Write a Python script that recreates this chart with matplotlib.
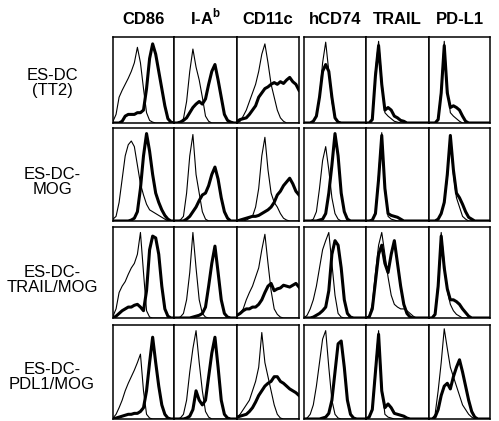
import numpy as np
import matplotlib.pyplot as plt

plt.rcParams['font.family'] = ['Liberation Sans', 'DejaVu Sans']

size = 499, 421
figsize = (size[0]/100.0, size[1]/100.0)

markers = ['CD86', 'I-A$^{\\mathregular{b}}$', 'CD11c', 'hCD74', 'TRAIL', 'PD-L1']
cell_lines = ['ES-DC\n(TT2)', 'ES-DC-\nMOG', 'ES-DC-\nTRAIL/MOG', 'ES-DC-\nPDL1/MOG']

# fluorescence bins (fraction of the log axis), 21 per histogram
bins = np.linspace(0.0, 1.0, 21)

# ES-DC (TT2): control (thin) and stained (thick) histograms
tt2_cd86_ctrl   = [0.02,0.10,0.30,0.38,0.45,0.52,0.60,0.70,0.88,0.70,0.40,0.12,0.03,0.01,0,0,0,0,0,0,0]
tt2_cd86_stain  = [0,0,0,0.02,0.08,0.10,0.10,0.10,0.12,0.12,0.15,0.40,0.75,0.92,0.80,0.60,0.40,0.20,0.05,0.01,0]
tt2_iab_ctrl    = [0,0,0.01,0.05,0.25,0.60,0.86,0.65,0.50,0.30,0.08,0.02,0,0,0,0,0,0,0,0,0]
tt2_iab_stain   = [0,0,0.01,0.03,0.06,0.12,0.18,0.22,0.25,0.22,0.28,0.45,0.60,0.68,0.50,0.30,0.10,0.03,0.01,0,0]
tt2_cd11c_ctrl  = [0,0.02,0.08,0.15,0.25,0.35,0.45,0.60,0.80,0.92,0.70,0.45,0.30,0.15,0.06,0.02,0,0,0,0,0]
tt2_cd11c_stain = [0.02,0.04,0.05,0.06,0.10,0.15,0.20,0.30,0.35,0.40,0.42,0.45,0.47,0.45,0.48,0.46,0.50,0.53,0.48,0.45,0.38]
tt2_hcd74_ctrl  = [0,0,0,0.02,0.08,0.30,0.70,0.94,0.60,0.25,0.05,0.01,0,0,0,0,0,0,0,0,0]
tt2_hcd74_stain = [0,0,0,0.02,0.08,0.30,0.60,0.68,0.60,0.30,0.06,0.01,0,0,0,0,0,0,0,0,0]
tt2_trail_ctrl  = [0,0,0.05,0.60,0.95,0.50,0.12,0.08,0.05,0.02,0.01,0,0,0,0,0,0,0,0,0,0]
tt2_trail_stain = [0,0,0.04,0.55,0.90,0.45,0.15,0.18,0.15,0.08,0.06,0.03,0.02,0,0,0,0,0,0,0,0]
tt2_pdl1_ctrl   = [0,0,0,0.05,0.40,0.95,0.40,0.12,0.08,0.05,0.02,0,0,0,0,0,0,0,0,0,0]
tt2_pdl1_stain  = [0,0,0,0.04,0.35,0.90,0.35,0.18,0.20,0.18,0.15,0.08,0.02,0,0,0,0,0,0,0,0]

# ES-DC-MOG
mog_cd86_ctrl   = [0.02,0.05,0.20,0.45,0.70,0.82,0.86,0.80,0.60,0.40,0.28,0.18,0.12,0.10,0.08,0.06,0.04,0.02,0,0,0]
mog_cd86_stain  = [0,0,0,0,0,0,0.01,0.03,0.10,0.35,0.70,0.94,0.75,0.50,0.30,0.20,0.12,0.06,0.02,0,0]
mog_iab_ctrl    = [0,0,0.01,0.05,0.30,0.70,0.93,0.50,0.30,0.10,0.02,0,0,0,0,0,0,0,0,0,0]
mog_iab_stain   = [0,0,0,0,0.02,0.05,0.10,0.15,0.22,0.28,0.30,0.38,0.50,0.58,0.45,0.25,0.10,0.03,0,0,0]
mog_cd11c_ctrl  = [0,0,0,0.01,0.03,0.05,0.15,0.35,0.70,0.90,0.55,0.30,0.20,0.15,0.08,0.03,0.01,0,0,0,0]
mog_cd11c_stain = [0,0.01,0.02,0.03,0.04,0.05,0.05,0.06,0.08,0.10,0.12,0.15,0.20,0.28,0.32,0.38,0.42,0.46,0.40,0.32,0.28]
mog_hcd74_ctrl  = [0,0,0,0.02,0.10,0.35,0.65,0.80,0.55,0.25,0.08,0.02,0,0,0,0,0,0,0,0,0]
mog_hcd74_stain = [0,0,0,0,0,0.01,0.02,0.08,0.30,0.60,0.94,0.70,0.30,0.10,0.02,0,0,0,0,0,0]
mog_trail_ctrl  = [0,0,0.01,0.10,0.50,0.95,0.40,0.05,0.02,0.01,0,0,0,0,0,0,0,0,0,0,0]
mog_trail_stain = [0,0,0.01,0.08,0.45,0.92,0.35,0.08,0.06,0.05,0.04,0.02,0,0,0,0,0,0,0,0,0]
mog_pdl1_ctrl   = [0,0,0,0.02,0.08,0.20,0.45,0.90,0.50,0.25,0.15,0.05,0.02,0,0,0,0,0,0,0,0]
mog_pdl1_stain  = [0,0,0,0.02,0.08,0.20,0.50,0.92,0.55,0.30,0.25,0.18,0.10,0.04,0.02,0,0,0,0,0,0]

# ES-DC-TRAIL/MOG
trl_cd86_ctrl   = [0.02,0.10,0.28,0.35,0.40,0.48,0.55,0.60,0.70,0.94,0.50,0.08,0.01,0,0,0,0,0,0,0,0]
trl_cd86_stain  = [0,0.02,0.05,0.08,0.10,0.12,0.12,0.14,0.15,0.12,0.08,0.30,0.75,0.90,0.88,0.70,0.35,0.10,0.02,0,0]
trl_iab_ctrl    = [0,0,0.01,0.05,0.20,0.50,0.94,0.55,0.20,0.05,0.01,0,0,0,0,0,0,0,0,0,0]
trl_iab_stain   = [0,0,0,0,0,0,0.01,0.02,0.03,0.05,0.12,0.35,0.60,0.79,0.50,0.20,0.05,0.01,0,0,0]
trl_cd11c_ctrl  = [0.02,0.05,0.10,0.20,0.28,0.35,0.45,0.55,0.75,0.92,0.60,0.30,0.10,0.04,0.01,0,0,0,0,0,0]
trl_cd11c_stain = [0.03,0.05,0.08,0.10,0.10,0.12,0.12,0.15,0.20,0.28,0.35,0.38,0.30,0.32,0.33,0.36,0.35,0.34,0.36,0.38,0.34]
trl_hcd74_ctrl  = [0,0.03,0.10,0.20,0.35,0.55,0.75,0.85,0.94,0.60,0.25,0.05,0.01,0,0,0,0,0,0,0,0]
trl_hcd74_stain = [0,0,0,0.01,0.03,0.05,0.08,0.12,0.30,0.70,0.85,0.80,0.55,0.20,0.05,0.01,0,0,0,0,0]
trl_trail_ctrl  = [0,0.02,0.15,0.50,0.80,0.94,0.70,0.45,0.25,0.15,0.12,0.10,0.10,0.08,0.05,0.02,0,0,0,0,0]
trl_trail_stain = [0,0.01,0.10,0.40,0.70,0.80,0.60,0.50,0.70,0.85,0.60,0.35,0.15,0.05,0.01,0,0,0,0,0,0]
trl_pdl1_ctrl   = [0,0,0.05,0.40,0.94,0.60,0.30,0.15,0.08,0.04,0.02,0,0,0,0,0,0,0,0,0,0]
trl_pdl1_stain  = [0,0,0.04,0.35,0.90,0.55,0.32,0.20,0.20,0.18,0.15,0.10,0.06,0.02,0,0,0,0,0,0,0]

# ES-DC-PDL1/MOG
pdl_cd86_ctrl   = [0.01,0.05,0.12,0.20,0.30,0.38,0.45,0.52,0.60,0.69,0.30,0.05,0.01,0,0,0,0,0,0,0,0]
pdl_cd86_stain  = [0,0.01,0.02,0.03,0.04,0.05,0.05,0.06,0.06,0.08,0.12,0.30,0.60,0.87,0.60,0.35,0.15,0.05,0.01,0,0]
pdl_iab_ctrl    = [0,0,0.01,0.05,0.20,0.50,0.75,0.94,0.60,0.30,0.08,0.02,0,0,0,0,0,0,0,0,0]
pdl_iab_stain   = [0,0,0,0,0.01,0.03,0.10,0.30,0.20,0.15,0.20,0.45,0.70,0.87,0.55,0.20,0.05,0.01,0,0,0]
pdl_cd11c_ctrl  = [0.02,0.05,0.10,0.15,0.20,0.30,0.40,0.55,0.92,0.60,0.45,0.30,0.15,0.05,0.01,0,0,0,0,0,0]
pdl_cd11c_stain = [0.02,0.03,0.04,0.05,0.08,0.12,0.18,0.25,0.30,0.35,0.38,0.40,0.45,0.45,0.40,0.38,0.35,0.32,0.30,0.28,0.25]
pdl_hcd74_ctrl  = [0,0.01,0.05,0.15,0.35,0.60,0.85,0.94,0.55,0.20,0.05,0.01,0,0,0,0,0,0,0,0,0]
pdl_hcd74_stain = [0,0,0,0,0,0,0.01,0.02,0.06,0.20,0.50,0.80,0.83,0.55,0.20,0.05,0.01,0,0,0,0]
pdl_trail_ctrl  = [0,0.02,0.12,0.55,0.94,0.35,0.05,0.02,0.01,0,0,0,0,0,0,0,0,0,0,0,0]
pdl_trail_stain = [0,0.02,0.10,0.50,0.90,0.30,0.12,0.16,0.12,0.06,0.05,0.04,0.03,0.01,0,0,0,0,0,0,0]
pdl_pdl1_ctrl   = [0,0,0.05,0.30,0.60,0.96,0.75,0.55,0.45,0.35,0.25,0.15,0.10,0.05,0.02,0,0,0,0,0,0]
pdl_pdl1_stain  = [0,0,0.02,0.10,0.25,0.35,0.38,0.32,0.45,0.55,0.63,0.50,0.35,0.20,0.08,0.02,0,0,0,0,0]

ctrl = [
    [tt2_cd86_ctrl, tt2_iab_ctrl, tt2_cd11c_ctrl, tt2_hcd74_ctrl, tt2_trail_ctrl, tt2_pdl1_ctrl],
    [mog_cd86_ctrl, mog_iab_ctrl, mog_cd11c_ctrl, mog_hcd74_ctrl, mog_trail_ctrl, mog_pdl1_ctrl],
    [trl_cd86_ctrl, trl_iab_ctrl, trl_cd11c_ctrl, trl_hcd74_ctrl, trl_trail_ctrl, trl_pdl1_ctrl],
    [pdl_cd86_ctrl, pdl_iab_ctrl, pdl_cd11c_ctrl, pdl_hcd74_ctrl, pdl_trail_ctrl, pdl_pdl1_ctrl],
]
stain = [
    [tt2_cd86_stain, tt2_iab_stain, tt2_cd11c_stain, tt2_hcd74_stain, tt2_trail_stain, tt2_pdl1_stain],
    [mog_cd86_stain, mog_iab_stain, mog_cd11c_stain, mog_hcd74_stain, mog_trail_stain, mog_pdl1_stain],
    [trl_cd86_stain, trl_iab_stain, trl_cd11c_stain, trl_hcd74_stain, trl_trail_stain, trl_pdl1_stain],
    [pdl_cd86_stain, pdl_iab_stain, pdl_cd11c_stain, pdl_hcd74_stain, pdl_trail_stain, pdl_pdl1_stain],
]

# panel edges in pixels (x from left, y from top)
col_edges = [(113, 174), (174, 237), (237, 299), (304, 366), (366, 429), (429, 490)]
row_edges = [(37, 123), (128, 221), (227, 318), (325, 419)]
label_centers = [83, 182, 280, 377]

figure = plt.figure(figsize=figsize, dpi=100, facecolor='white')

for i, (top, bottom) in enumerate(row_edges):
    for j, (left, right) in enumerate(col_edges):
        ax = figure.add_axes([left/size[0], 1 - bottom/size[1],
                              (right-left)/size[0], (bottom-top)/size[1]])
        ax.plot(bins, ctrl[i][j], color='black', lw=0.8)
        ax.plot(bins, stain[i][j], color='black', lw=2.2)
        ax.set_xlim(0, 1)
        ax.set_ylim(0, 1)
        ax.set_xticks([])
        ax.set_yticks([])
        for s in ax.spines.values():
            s.set_linewidth(1.1)
        if i == 0:
            figure.text((left+right)/2/size[0], 1 - 24/size[1], markers[j],
                        ha='center', va='baseline', fontsize=12, fontweight='bold')
    figure.text(52/size[0], 1 - label_centers[i]/size[1], cell_lines[i],
                ha='center', va='center', fontsize=12, linespacing=1.05)

figure.savefig('out.png', dpi=100, facecolor='white')
